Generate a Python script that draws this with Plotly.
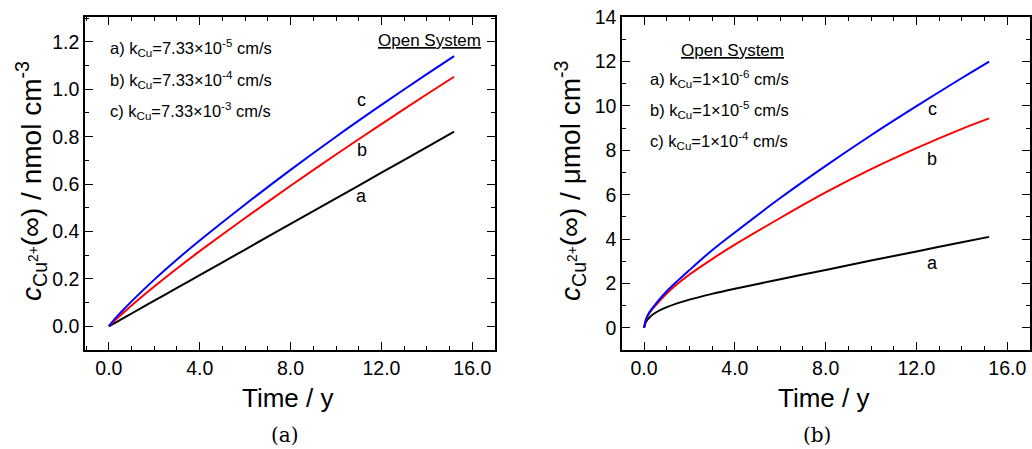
import plotly.graph_objects as go

# ---------------- data ----------------
time_a = [0, 0.25, 0.5, 1, 2, 3, 4, 6, 8, 10, 12, 14, 15.2]
left_a = [0, 0.0135, 0.027, 0.054, 0.108, 0.162, 0.216, 0.324, 0.432, 0.54, 0.648, 0.756, 0.821]
left_b = [0, 0.023, 0.045, 0.088, 0.168, 0.244, 0.317, 0.457, 0.593, 0.725, 0.853, 0.979, 1.053]
left_c = [0, 0.03, 0.056, 0.105, 0.197, 0.282, 0.362, 0.514, 0.660, 0.800, 0.934, 1.064, 1.140]

time_b = [0, 0.1, 0.25, 0.5, 1, 2, 3, 4, 6, 8, 10, 12, 14, 15.2]
right_a = [0, 0.3, 0.48, 0.68, 0.93, 1.27, 1.53, 1.76, 2.19, 2.61, 3.03, 3.44, 3.86, 4.1]
right_b = [0, 0.4, 0.68, 1.0, 1.55, 2.4, 3.1, 3.75, 4.95, 6.1, 7.15, 8.1, 8.97, 9.44]
right_c = [0, 0.42, 0.72, 1.06, 1.65, 2.6, 3.5, 4.3, 5.85, 7.3, 8.68, 9.99, 11.26, 12.0]

x_ticks = [0, 4, 8, 12, 16]
x_tick_labels = ["0.0", "4.0", "8.0", "12.0", "16.0"]
left_y_ticks = [0.0, 0.2, 0.4, 0.6, 0.8, 1.0, 1.2]
left_y_labels = ["0.0", "0.2", "0.4", "0.6", "0.8", "1.0", "1.2"]
right_y_ticks = [0, 2, 4, 6, 8, 10, 12, 14]
right_y_labels = ["0", "2", "4", "6", "8", "10", "12", "14"]

left_legend = [
    "a) k<sub>Cu</sub>=7.33×10<sup>-5</sup> cm/s",
    "b) k<sub>Cu</sub>=7.33×10<sup>-4</sup> cm/s",
    "c) k<sub>Cu</sub>=7.33×10<sup>-3</sup> cm/s",
]
right_legend = [
    "a) k<sub>Cu</sub>=1×10<sup>-6</sup> cm/s",
    "b) k<sub>Cu</sub>=1×10<sup>-5</sup> cm/s",
    "c) k<sub>Cu</sub>=1×10<sup>-4</sup> cm/s",
]
curve_names = ["a", "b", "c"]
colors = ["#000000", "#ff0000", "#0000ff"]

FONT = "Liberation Sans, Arial, Helvetica, sans-serif"
W, H = 1032, 449

fig = go.Figure()

for ys, col in zip([left_a, left_b, left_c], colors):
    fig.add_trace(go.Scatter(x=time_a, y=ys, mode="lines", line=dict(color=col, width=2, shape="spline", smoothing=0.8),
                             xaxis="x", yaxis="y", showlegend=False, hoverinfo="skip"))
for ys, col in zip([right_a, right_b, right_c], colors):
    fig.add_trace(go.Scatter(x=time_b, y=ys, mode="lines", line=dict(color=col, width=2, shape="spline", smoothing=0.8),
                             xaxis="x2", yaxis="y2", showlegend=False, hoverinfo="skip"))


def px_x(p):
    return p / W


def px_y(p):
    return 1 - p / H


ax_common = dict(showline=True, linecolor="black", linewidth=1.5, mirror="ticks", ticks="inside",
                 ticklen=8, tickwidth=1.2, tickcolor="black", showgrid=False, zeroline=False,
                 automargin=False, tickfont=dict(family=FONT, size=19.5, color="black"))
minor_common = dict(ticks="inside", ticklen=4, tickcolor="black", tickwidth=1)

fig.update_layout(
    width=W, height=H, autosize=False,
    margin=dict(l=0, r=0, t=0, b=0, pad=0, autoexpand=False),
    paper_bgcolor="white", plot_bgcolor="white",
    xaxis=dict(domain=[px_x(85), px_x(495)], range=[-1.05, 17], anchor="y",
               tickvals=x_ticks, ticktext=x_tick_labels, minor=dict(dtick=1, **minor_common), **ax_common),
    yaxis=dict(domain=[px_y(350), px_y(17)], range=[-0.1, 1.305], anchor="x",
               tickvals=left_y_ticks, ticktext=left_y_labels, minor=dict(dtick=0.1, **minor_common), **ax_common),
    xaxis2=dict(domain=[px_x(622), px_x(1030)], range=[-0.97, 17], anchor="y2",
                tickvals=x_ticks, ticktext=x_tick_labels, minor=dict(dtick=1, **minor_common), **ax_common),
    yaxis2=dict(domain=[px_y(350), px_y(17)], range=[-1.0, 14.01], anchor="x2",
                tickvals=right_y_ticks, ticktext=right_y_labels, minor=dict(dtick=1, **minor_common), **ax_common),
)

ann = []
# legends left
for txt, yv in zip(left_legend, [1.175, 1.039, 0.908]):
    ann.append(dict(x=-0.05, y=yv, xref="x", yref="y", text=txt, showarrow=False, xanchor="left",
                    yanchor="middle", font=dict(family=FONT, size=16.5, color="black")))
ann.append(dict(x=16.45, y=1.204, xref="x", yref="y", text="<u>Open System</u>", showarrow=False,
                xanchor="right", yanchor="middle", font=dict(family=FONT, size=17, color="black")))
# legends right
for txt, yv in zip(right_legend, [11.2, 9.81, 8.42]):
    ann.append(dict(x=0.18, y=yv, xref="x2", yref="y2", text=txt, showarrow=False, xanchor="left",
                    yanchor="middle", font=dict(family=FONT, size=16.5, color="black")))
ann.append(dict(x=3.91, y=12.51, xref="x2", yref="y2", text="<u>Open System</u>", showarrow=False,
                xanchor="center", yanchor="middle", font=dict(family=FONT, size=17, color="black")))
# curve labels
for nm, (xv, yv) in zip(curve_names, [(11.13, 0.549), (11.13, 0.744), (11.13, 0.955)]):
    ann.append(dict(x=xv, y=yv, xref="x", yref="y", text=nm, showarrow=False,
                    font=dict(family=FONT, size=18, color="black")))
for nm, (xv, yv) in zip(curve_names, [(12.69, 2.9), (12.69, 7.6), (12.69, 9.86)]):
    ann.append(dict(x=xv, y=yv, xref="x2", yref="y2", text=nm, showarrow=False,
                    font=dict(family=FONT, size=18, color="black")))
# axis titles
for cx in [287, 823]:
    ann.append(dict(x=px_x(cx), y=px_y(398), xref="paper", yref="paper", text="Time / y", showarrow=False,
                    xanchor="center", yanchor="middle", font=dict(family=FONT, size=26, color="black")))
ann.append(dict(x=px_x(31), y=px_y(181), xref="paper", yref="paper",
                text="<i>c</i><sub>Cu<sup>2+</sup></sub>(∞) / nmol cm<sup>-3</sup>", textangle=-90,
                showarrow=False, xanchor="center", yanchor="middle", font=dict(family=FONT, size=28, color="black")))
ann.append(dict(x=px_x(570), y=px_y(181), xref="paper", yref="paper",
                text="<i>c</i><sub>Cu<sup>2+</sup></sub>(∞) / μmol cm<sup>-3</sup>", textangle=-90,
                showarrow=False, xanchor="center", yanchor="middle", font=dict(family=FONT, size=28, color="black")))
# captions
for cx, t in [(285, "(a)"), (817, "(b)")]:
    ann.append(dict(x=px_x(cx), y=px_y(435), xref="paper", yref="paper", text=t, showarrow=False,
                    xanchor="center", yanchor="middle",
                    font=dict(family="DejaVu Serif, Liberation Serif, serif", size=20, color="black")))

fig.update_layout(annotations=ann)
fig.write_html(
    "out.html",
    config={"displayModeBar": False, "responsive": False},
    post_script="document.body.style.margin='0';document.body.style.overflow='hidden';"
                "document.documentElement.style.overflow='hidden';",
)
